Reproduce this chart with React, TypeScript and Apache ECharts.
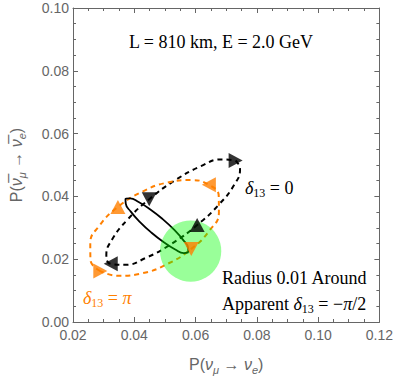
import React, { useEffect, useRef } from "react";
import * as echarts from "echarts";

// Axis ranges
const xRange: [number, number] = [0.02, 0.12];
const yRange: [number, number] = [0.0, 0.1];
const tickStep = 0.02;

// Curves (points along each closed curve)
const blackDashed: [number, number][] = [
  [0.07308, 0.05146], [0.07452, 0.04863], [0.07264, 0.04373], [0.06772, 0.0375],
  [0.06052, 0.03088], [0.05213, 0.02489], [0.04382, 0.02044], [0.03686, 0.0182],
  [0.03232, 0.01852], [0.03088, 0.02135], [0.03276, 0.02625], [0.03768, 0.03248],
  [0.04488, 0.0391], [0.05327, 0.04509], [0.06158, 0.04954], [0.06854, 0.05178],
];
const orangeDashed: [number, number][] = [
  [0.02892, 0.01622], [0.02569, 0.01982], [0.02564, 0.02496], [0.02879, 0.03086],
  [0.03466, 0.03662], [0.04235, 0.04137], [0.05069, 0.04438], [0.05841, 0.04519],
  [0.06434, 0.04368], [0.06757, 0.04008], [0.06762, 0.03494], [0.06447, 0.02904],
  [0.0586, 0.02328], [0.05091, 0.01854], [0.04257, 0.01552], [0.03485, 0.01471],
];
const blackSolid: [number, number][] = [
  [0.05765, 0.02214], [0.05756, 0.02362], [0.05592, 0.02617], [0.05299, 0.02941],
  [0.0492, 0.03284], [0.04513, 0.03593], [0.04141, 0.03823], [0.03861, 0.03937],
  [0.03713, 0.03918], [0.03722, 0.0377], [0.03886, 0.03515], [0.04179, 0.03191],
  [0.04558, 0.02848], [0.04965, 0.02539], [0.05337, 0.02309], [0.05618, 0.02195],
];

// Triangle markers (right, up, left, down)
const markerDirs = ["right", "up", "left", "down"];
const blackMarkers: [number, number][] = [
  [0.07308, 0.05146], [0.06052, 0.03088], [0.03232, 0.01852], [0.04488, 0.0391],
];
const orangeMarkers: [number, number][] = [
  [0.02892, 0.01622], [0.03466, 0.03662], [0.06434, 0.04368], [0.0586, 0.02328],
];

// Green disc: centre x, centre y, radius (data units)
const discs: [number, number, number][] = [[0.0584, 0.0226, 0.01]];

const ORANGE = "#FF8000";
const GRAY = "#666666";
const SERIF = '"Liberation Serif", "Times New Roman", serif';
const SANS = '"Liberation Sans", Arial, sans-serif';

const rotFor: Record<string, number> = { up: 0, left: 90, down: 180, right: -90 };

function close(pts: [number, number][]) {
  return [...pts, pts[0]];
}

function axisCommon(min: number, max: number) {
  return {
    type: "value" as const,
    min,
    max,
    interval: tickStep,
    axisLine: { show: true, onZero: false, lineStyle: { color: GRAY, width: 1 } },
    axisTick: { show: true, inside: true, length: 5, lineStyle: { color: GRAY, width: 1 } },
    minorTick: { show: true, splitNumber: 4, length: 3, lineStyle: { color: GRAY, width: 1 } },
    splitLine: { show: false },
    minorSplitLine: { show: false },
  };
}

const nameRich = {
  t: { fontSize: 16, fontFamily: SANS, color: GRAY, lineHeight: 22 },
  i: { fontSize: 16, fontFamily: SANS, color: GRAY, fontStyle: "italic", lineHeight: 22 },
  s: { fontSize: 11, fontFamily: SANS, color: GRAY, fontStyle: "italic", lineHeight: 11, verticalAlign: "bottom" },
};

const textRich = {
  n: { fontSize: 18, fontFamily: SERIF, fill: "#000", lineHeight: 22 },
  i: { fontSize: 18, fontFamily: SERIF, fill: "#000", fontStyle: "italic", lineHeight: 22 },
  s: { fontSize: 12, fontFamily: SERIF, fill: "#000", lineHeight: 12, verticalAlign: "bottom" },
};
const textRichOrange = {
  n: { ...textRich.n, fill: ORANGE },
  i: { ...textRich.i, fill: ORANGE },
  s: { ...textRich.s, fill: ORANGE },
};

export default function App() {
  const ref = useRef<HTMLDivElement>(null);
  useEffect(() => {
    if (!ref.current) return;
    const chart = echarts.init(ref.current, undefined, { renderer: "svg" });
    const option: any = {
      animation: false,
      backgroundColor: "#fff",
      grid: { left: 63, top: 8, right: 14, bottom: 53, containLabel: false },
      xAxis: [
        {
          ...axisCommon(xRange[0], xRange[1]),
          position: "bottom",
          axisLabel: {
            color: GRAY,
            fontSize: 14,
            fontFamily: SANS,
            margin: 6,
            formatter: (v: number) => v.toFixed(2),
          },
          name: "{t|P(}{i|ν}{s|μ}{t| → }{i|ν}{s|e}{t|)}",
          nameLocation: "middle",
          nameGap: 31,
          nameTextStyle: { rich: nameRich },
        },
        {
          ...axisCommon(xRange[0], xRange[1]),
          position: "top",
          axisLabel: { show: false },
        },
      ],
      yAxis: [
        {
          ...axisCommon(yRange[0], yRange[1]),
          position: "left",
          axisLabel: {
            color: GRAY,
            fontSize: 14,
            fontFamily: SANS,
            margin: 4,
            formatter: (v: number) => v.toFixed(2),
          },
          name: "{t|P(}{i|ν\u0305}{s|μ}{t| → }{i|ν\u0305}{s|e}{t|)}",
          nameLocation: "middle",
          nameRotate: 90,
          nameGap: 46,
          nameTextStyle: { rich: nameRich },
        },
        {
          ...axisCommon(yRange[0], yRange[1]),
          position: "right",
          axisLabel: { show: false },
        },
      ],
      graphic: [
        {
          type: "text",
          x: 221,
          y: 42,
          style: {
            text: "L = 810 km, E = 2.0 GeV",
            font: `18px ${SERIF}`,
            fill: "#000",
            align: "center",
            verticalAlign: "middle",
          },
        },
        {
          type: "text",
          x: 245,
          y: 188,
          style: {
            text: "{i|δ}{s|13}{n| = 0}",
            rich: textRich,
            font: `18px ${SERIF}`,
            fill: "#000",
            align: "left",
            verticalAlign: "middle",
          },
        },
        {
          type: "text",
          x: 83,
          y: 298,
          style: {
            text: "{i|δ}{s|13}{n| = }{i|π}",
            rich: textRichOrange,
            font: `18px ${SERIF}`,
            fill: ORANGE,
            align: "left",
            verticalAlign: "middle",
          },
        },
        {
          type: "text",
          x: 222,
          y: 278,
          style: {
            text: "{n|Radius 0.01 Around}",
            rich: textRich,
            font: `18px ${SERIF}`,
            fill: "#000",
            align: "left",
            verticalAlign: "middle",
          },
        },
        {
          type: "text",
          x: 222,
          y: 304,
          style: {
            text: "{n|Apparent }{i|δ}{s|13}{n| = −}{i|π}{n|/2}",
            rich: textRich,
            font: `18px ${SERIF}`,
            fill: "#000",
            align: "left",
            verticalAlign: "middle",
          },
        },
      ],
      series: [
        {
          type: "line",
          data: close(blackDashed),
          smooth: true,
          symbol: "none",
          silent: true,
          z: 2,
          lineStyle: { color: "#000", width: 2, type: [5, 4] },
        },
        {
          type: "line",
          data: close(orangeDashed),
          smooth: true,
          symbol: "none",
          silent: true,
          z: 2,
          lineStyle: { color: ORANGE, width: 2, type: [5, 4] },
        },
        {
          type: "line",
          data: close(blackSolid),
          smooth: true,
          symbol: "none",
          silent: true,
          z: 2,
          lineStyle: { color: "#000", width: 1.8 },
        },
        {
          type: "custom",
          data: discs,
          silent: true,
          z: 3,
          renderItem: (_p: any, api: any) => {
            const c = api.coord([api.value(0), api.value(1)]);
            const r = api.size([api.value(2), 0])[0];
            return {
              type: "circle",
              shape: { cx: c[0], cy: c[1], r },
              style: { fill: "rgba(0,255,0,0.4)" },
            };
          },
        },
        {
          type: "scatter",
          z: 5,
          silent: true,
          symbol: "triangle",
          symbolSize: [15, 14],
          itemStyle: { color: "#000" },
          data: blackMarkers.map((p, i) => ({ value: p, symbolRotate: rotFor[markerDirs[i]] })),
        },
        {
          type: "scatter",
          z: 5,
          silent: true,
          symbol: "triangle",
          symbolSize: [15, 14],
          itemStyle: { color: ORANGE },
          data: orangeMarkers.map((p, i) => ({ value: p, symbolRotate: rotFor[markerDirs[i]] })),
        },
      ],
    };
    chart.setOption(option);
    return () => chart.dispose();
  }, []);
  return (
    <div
      ref={ref}
      style={{ position: "absolute", left: 0, top: 0, width: 396, height: 380 }}
    />
  );
}
